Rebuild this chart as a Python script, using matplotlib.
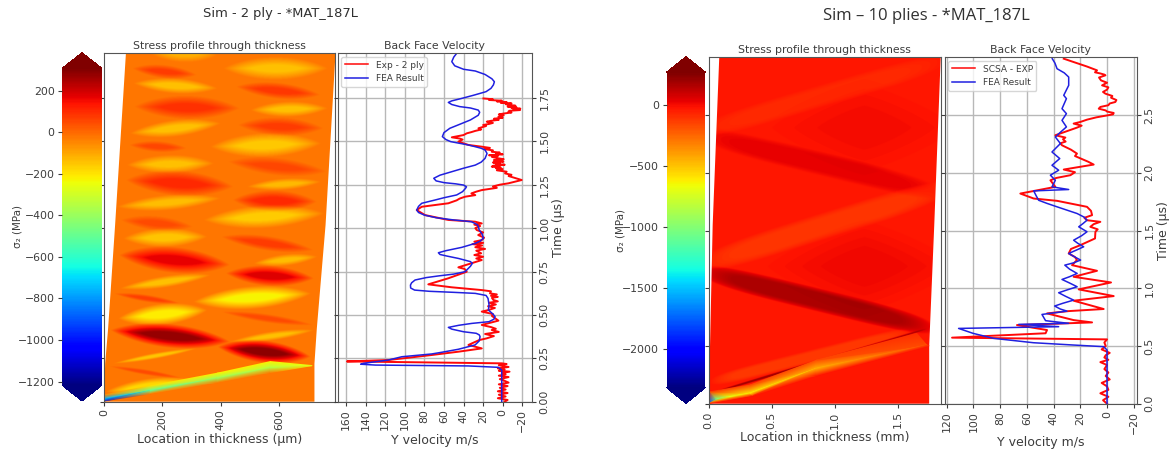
import numpy as np
import matplotlib
matplotlib.use('Agg')
import matplotlib.pyplot as plt
from matplotlib.patches import Polygon
from matplotlib.colors import Normalize

W, H = 1174, 450

# ---- 2 ply: stress bands (um, us, MPa)
bands2_x0 = [95, 101, 409, 449, 101, 501, 89, 455, 84, 364, 78, 421, 72, 489, 44, 438, 55, 341, 66, 398, 49, 512, 415, 55, 32, 306, 49, 398, 21, 432, 387, 32, 15, 4, 158]
bands2_t0 = [1.920, 1.834, 1.920, 1.815, 1.700, 1.680, 1.546, 1.594, 1.479, 1.469, 1.364, 1.383, 1.277, 1.239, 1.123, 1.162, 1.047, 1.047, .941, .951, .845, .797, .740, .653, .624, .576, .480, .519, .413, .346, .317, .221, .206, .058, 2.007]
bands2_x1 = [318, 387, 764, 741, 466, 764, 398, 752, 284, 741, 375, 764, 444, 741, 398, 729, 306, 752, 352, 718, 432, 729, 718, 364, 261, 707, 352, 718, 432, 718, 707, 318, 272, 306, 386]
bands2_t1 = [1.882, 1.805, 1.920, 1.767, 1.690, 1.690, 1.604, 1.575, 1.460, 1.488, 1.373, 1.325, 1.239, 1.267, 1.172, 1.152, 1.008, 1.085, .951, .874, .788, .836, .711, .730, .567, .624, .528, .442, .346, .413, .260, .308, .135, .125, 1.997]
bands2_h = [.04, .044, .066, .048, .07, .044, .048, .055, .033, .07, .053, .053, .075, .033, .044, .062, .044, .066, .055, .044, .077, .033, .06, .033, .022, .066, .062, .026, .07, .026, .066, .017, .017, .044, .046]
bands2_val = [70, -145, -140, 80, 90, -140, -145, 70, 55, -155, -140, 55, 105, -130, -135, 105, 50, -160, -150, 75, 170, -135, 180, -145, 65, -225, -215, 50, 275, -140, 285, -150, 50, -180, -110]
bands2_uexp = [2.0] * 35
bands2_vexp = [1.2] * 35
front2_x = [0, 158, 387, 569, 712, 0, 158, 387, 569, 0, 158, 387, 569]
front2_t = [.039, .091, .164, .231, .208, .016, .064, .135, .196, .004, .046, .110, .167]
front2_val = [-30, -190, -220, -220, -250, -750, -500, -400, -350, -1100, -30, -25, -25]
front2_tri = [(5, 0, 6), (6, 0, 1), (6, 1, 7), (7, 1, 2), (7, 2, 8), (8, 2, 3), (8, 3, 4),
              (5, 9, 6), (6, 9, 10), (6, 10, 7), (7, 10, 11), (7, 11, 8), (8, 11, 12), (8, 12, 4)]
edge2_t = [0, .22, .42, 1.018, 2.007]
edge2_left = [0, 4, 14, 38, 75]
edge2_right = [720, 720, 728, 758, 792]

# ---- 10 plies: stress bands (mm, us, MPa)
bands10_x0 = [-.1, -.1, .35, .35, -.1, -.1, .012, .012]
bands10_t0 = [2.349, 2.339, 1.19, 2.39, 1.196, 1.157, .090, .191]
bands10_x1 = [1.85, 1.85, 2.1, 2.1, 1.9, 1.8, 1.725, 1.59]
bands10_t1 = [2.969, 1.82, 1.19, 2.39, 1.876, .646, .652, .623]
bands10_h = [.10, .11, .45, .45, .12, .105, .012, .06]
bands10_val = [-75, 35, 15, 5, -110, 170, 190, -115]
bands10_uexp = [4, 4, 1.2, 1.2, 4, 4, 6, 6]
bands10_vexp = [2.5, 2.5, 1.2, 1.2, 2.5, 2.5, 2.5, 2.5]
front10_x = [.004, .065, .170, .328, .855, 1.725, .012, .328, .855, 1.646, .007, .354, .855, 1.751]
front10_t = [.009, .041, .061, .090, .306, .508, .104, .162, .378, .609, .003, .070, .243, .502]
front10_val = [-1800, -1000, -680, -620, -450, -170, -90, -150, -170, -90, -30, -30, -30, -30]
front10_tri = [(0, 6, 1), (1, 6, 2), (2, 6, 3), (3, 6, 7), (3, 7, 4), (4, 7, 8), (4, 8, 5), (5, 8, 9),
               (0, 10, 1), (1, 10, 2), (2, 10, 3), (3, 10, 11), (3, 11, 4), (4, 11, 12), (4, 12, 5), (5, 12, 13)]
edge10_t = [0, .50, 1.546, 3.0]
edge10_left = [0, .012, .033, .085]
edge10_right = [1.745, 1.745, 1.785, 1.836]

# ---- velocity curves, ten points a line
fea2_t = [2.007, 1.985, 1.959, 1.935, 1.915, 1.905, 1.885, 1.860, 1.843, 1.825,
          1.805, 1.786, 1.765, 1.747, 1.733, 1.724, 1.712, 1.700, 1.692, 1.680,
          1.667, 1.650, 1.623, 1.600, 1.575, 1.550, 1.527, 1.510, 1.498, 1.479,
          1.460, 1.450, 1.430, 1.402, 1.380, 1.363, 1.345, 1.325, 1.305, 1.287,
          1.272, 1.262, 1.255, 1.248, 1.238, 1.229, 1.210, 1.191, 1.175, 1.162,
          1.143, 1.125, 1.104, 1.090, 1.075, 1.060, 1.047, 1.037, 1.020, 1.008,
          .989, .965, .941, .925, .912, .889, .870, .858, .848, .839,
          .825, .807, .797, .780, .749, .735, .725, .715, .701, .685,
          .672, .655, .643, .636, .630, .624, .612, .595, .560, .528,
          .505, .490, .475, .461, .451, .440, .428, .418, .403, .394,
          .385, .375, .350, .327, .302, .285, .275, .259, .240, .221,
          .216, .211, .206, .198, .182, 0]
fea2_v = [47, 50, 52, 49, 40, 28, 18, 11, 8.5, 9.5,
          12, 17, 30, 42, 52, 55.5, 52, 44, 33, 25,
          23.5, 25, 33, 43, 54, 60, 61.6, 58, 53, 35,
          22, 18, 16, 18, 22, 28, 40, 52, 64, 70.4,
          68, 60, 48, 40, 37, 38, 41, 47, 60, 69,
          82.7, 86, 87.8, 86, 80, 68, 50, 32, 26, 24.8,
          24, 21, 19.7, 23, 28, 41.9, 58, 65.7, 64, 57,
          45, 33, 31, 33, 38.4, 50, 65, 78, 89.5, 93,
          94.2, 94, 90, 75, 50, 28, 17, 15, 14, 14.6,
          10, 7.8, 9, 14, 31.6, 45, 55.5, 52, 40, 27,
          24, 23.1, 24, 28.2, 45.3, 62, 72.5, 103, 116.7, 142.2,
          145, 130, 35, 4.4, 1, 1]
exp2_t = [1.747, 1.742, 1.738, 1.734, 1.730, 1.726, 1.722, 1.718, 1.714, 1.709,
          1.705, 1.700, 1.696, 1.692, 1.688, 1.684, 1.680, 1.676, 1.671, 1.666,
          1.660, 1.655, 1.650, 1.642, 1.636, 1.630, 1.624, 1.618, 1.613, 1.606,
          1.600, 1.594, 1.588, 1.575, 1.568, 1.560, 1.553, 1.546, 1.536, 1.523,
          1.516, 1.510, 1.498, 1.479, 1.469, 1.462, 1.455, 1.448, 1.440, 1.435,
          1.430, 1.425, 1.420, 1.415, 1.410, 1.402, 1.397, 1.392, 1.388, 1.383,
          1.378, 1.374, 1.370, 1.365, 1.360, 1.354, 1.349, 1.345, 1.340, 1.333,
          1.325, 1.315, 1.307, 1.300, 1.290, 1.277, 1.258, 1.250, 1.240, 1.232,
          1.219, 1.210, 1.200, 1.190, 1.181, 1.170, 1.160, 1.143, 1.123, 1.104,
          1.075, 1.047, 1.037, 1.027, 1.020, 1.012, 1.000, .989, .975, .960,
          .945, .931, .922, .915, .908, .900, .890, .880, .870, .855,
          .845, .835, .825, .816, .774, .765, .749, .711, .676, .659,
          .643, .636, .624, .618, .610, .604, .598, .586, .578, .570,
          .560, .550, .540, .528, .519, .505, .494, .467, .442, .430,
          .420, .413, .402, .390, .378, .365, .355, .345, .327, .307,
          .288, .269, .240, .232, .221, .217, .210, .200, .192, .185,
          .178, .173, .165, .158, .150, .142, .130, .120, .110, .100,
          .090, .080, .070, .060, .050, .040, .030, .020, .010, 0]
exp2_v = [19.7, 10, 14, 1, 6, -4, 2, -9, -3, -7.5,
          -13, -5, -14, -9, -18, -11, -17.7, -7, -5.8, -9,
          -1, 4, -1, 4.4, 0, 9, 4, 12, 16.3, 10,
          14, 20, 17, 24.8, 22, 28, 32, 36.7, 40, 52,
          44, 41, 45.3, 35, 21.4, 13, 19, 10, 11.2, 3,
          7, 0, 14, 5, 11, 4.4, -1, 9, 2, -.7,
          10, 3, 7, -2, 9, 11.2, 2, 7, 0, 6,
          -4, -2.4, -9, -6, -12, -19.4, -5.8, 3, 10, 6,
          21.4, 27, 32, 28, 38.4, 44, 47, 55.5, 82.7, 87.8,
          79.3, 55.5, 28.2, 21.4, 29, 23, 28, 26.5, 20, 25,
          19, 21.4, 29, 20, 31, 21, 28, 18, 27, 22,
          29, 20, 27, 21.4, 45.3, 39, 36.7, 55.5, 76, 52,
          21.4, 12, 13, 6, 12, 5, 11, 9.5, 5, 14,
          7, 15, 8, 14.6, 21.4, 10, 11, 4.4, 21.4, 12,
          7, 11.2, 4, 18, 9, 16.3, 24, 28, 35, 21.4,
          45.3, 72.5, 116.7, 159, 1, -4, 4, -6, 5, -2,
          4, -7, 1, -3, 4, -6, 3, -2, -6, 4,
          -5, 3, -3, 5, -5, 4, -3, 5, -5, -2]
fea10_t = [2.988, 2.950, 2.901, 2.865, 2.829, 2.757, 2.671, 2.642, 2.555, 2.512,
           2.454, 2.397, 2.350, 2.310, 2.253, 2.180, 2.123, 2.065, 2.022, 1.979,
           1.935, 1.878, 1.855, 1.843, 1.800, 1.762, 1.735, 1.705, 1.647, 1.615,
           1.589, 1.560, 1.532, 1.510, 1.489, 1.455, 1.416, 1.390, 1.359, 1.330,
           1.301, 1.270, 1.244, 1.220, 1.200, 1.165, 1.128, 1.100, 1.076, 1.045,
           1.013, .985, .961, .930, .897, .870, .846, .820, .802, .773,
           .719, .696, .687, .667, .652, .609, .566, .528, .508, .494,
           .465, 0]
fea10_v = [41, 39, 37.4, 32, 28.7, 28.7, 32.4, 30.4, 33.7, 30.4,
           33.7, 30.4, 35, 38.7, 34.9, 41.2, 35.4, 41.2, 36.2, 42.4,
           38.7, 41.2, 28.7, 54.9, 53, 51.2, 45, 37.4, 22.4, 17,
           15, 18, 21.2, 18, 15, 19, 25, 22, 17.5, 23,
           28.7, 24, 19.8, 25, 31.6, 28, 22.4, 28, 33.7, 28,
           22.4, 30, 36.2, 31, 25, 33, 39.2, 35, 30, 48.7,
           46, 28.7, 66.1, 36.2, 111.1, 100.2, 84.9, 55, 25, 2.5,
           0, 0]
exp10_t = [2.988, 2.959, 2.920, 2.887, 2.870, 2.860, 2.850, 2.844, 2.825, 2.800,
           2.780, 2.757, 2.740, 2.720, 2.700, 2.685, 2.665, 2.650, 2.630, 2.613,
           2.600, 2.585, 2.570, 2.555, 2.540, 2.530, 2.518, 2.506, 2.480, 2.460,
           2.440, 2.426, 2.408, 2.391, 2.325, 2.305, 2.290, 2.270, 2.255, 2.238,
           2.200, 2.166, 2.145, 2.120, 2.095, 2.071, 2.028, 2.005, 1.979, 1.955,
           1.935, 1.878, 1.820, 1.777, 1.757, 1.705, 1.670, 1.633, 1.610, 1.589,
           1.575, 1.555, 1.532, 1.510, 1.489, 1.431, 1.373, 1.340, 1.301, 1.270,
           1.244, 1.200, 1.151, 1.099, 1.050, .990, .932, .892, .820, .802,
           .782, .724, .704, .681, .638, .610, .572, .557, .530, .500,
           .470, .440, .420, .400, .380, .360, .335, .300, .270, .240,
           .210, .180, .150, .120, .090, .060, .030, 0]
exp10_v = [32.4, 25, 15, 7.5, 9, 5, 2, 1.2, 6, 4.5,
           0, 3.7, -1, 0, 3, 1.2, -4, -3, -7, -6.2,
           -2, -1, 5, 6.2, 1, 0, -5, -4.5, 8, 15,
           20, 25, 19, 22.5, 38.7, 31.2, 33, 31, 35, 33.7,
           27, 22.5, 24, 19, 14, 10, 32.4, 24, 27.4, 38,
           42.4, 38.7, 64.9, 54.9, 37.4, 15, 12, 11.2, 17, 15,
           5, 10, 12.5, 7, 8.7, 9, 20, 27, 28.7, 24,
           22.5, 26.2, 7.5, 25, -3, 21.2, -5, 25, 2.5, 28.7,
           44.9, 25, 11.2, 67.4, 44.9, 46, 116, 0, 2, 1,
           4, -2, 1, 2, -1, 5, 0, 2, -1, 1,
           -2, 4, 0, -1, 5, -1, 3, 0]


def rect(x0, y0, x1, y1):
    # pixel box -> figure fraction
    return [x0 / W, 1 - y1 / H, (x1 - x0) / W, (y1 - y0) / H]


def stressField(x, t, bg, x0s, t0s, x1s, t1s, hs, vals, uexps, vexps):
    X, T = np.meshgrid(x, t)
    field = np.full(X.shape, float(bg))
    for x0, t0, x1, t1, h, val, ue, ve in zip(x0s, t0s, x1s, t1s, hs, vals, uexps, vexps):
        u = (X - x0) / (x1 - x0)
        v = (T - (t0 + u * (t1 - t0))) / h
        weight = np.clip(1.3 * (1 - np.abs(2 * u - 1) ** ue - np.abs(v) ** ve), 0, 1)
        field += (val - bg) * weight
    return field


def drawPanel(boxes, labelX, xmax, tmax, vmin, vmax, bg, bands, front, edges, xlabel, xticks, xfmt,
              cticks, vlim, vticks, tticks, tfmt, curves, expLabel):
    heatBox, cbarBox, velBox, frac = boxes
    norm = Normalize(vmin, vmax)

    ax = fig.add_axes(rect(*heatBox))
    x = np.linspace(0, xmax, 900)
    t = np.linspace(0, tmax, 900)
    field = stressField(x, t, bg, *bands)
    im = ax.imshow(field, cmap='jet', norm=norm, origin='lower', aspect='auto',
                   extent=[0, xmax, 0, tmax], interpolation='bilinear')
    tc = ax.tripcolor(front[0], front[1], front[3], front[2], cmap='jet', norm=norm, shading='gouraud')

    et, el, er = edges
    outline = list(zip(el, et)) + list(zip(er, et))[::-1]
    for art in (im, tc):
        art.set_clip_path(Polygon(outline, transform=ax.transData))
    ax.set_xlim(0, xmax)
    ax.set_ylim(0, tmax)
    ax.set_xticks(xticks)
    ax.set_xticklabels([xfmt % v for v in xticks], rotation=90)
    ax.set_yticks(tticks)
    ax.set_yticklabels([])
    ax.set_title('Stress profile through thickness', fontsize=7.8, color=TXT, pad=3)
    ax.set_xlabel(xlabel, fontsize=9, color=TXT, labelpad=2)

    cax = fig.add_axes(rect(*cbarBox))
    sm = plt.cm.ScalarMappable(norm=norm, cmap='jet')
    cb = fig.colorbar(sm, cax=cax, extend='both', extendfrac=frac)
    cb.outline.set_visible(False)
    cb.set_ticks(cticks)
    cax.yaxis.set_ticks_position('left')
    cax.yaxis.set_label_position('left')
    cb.set_label('σ₂ (MPa)', fontsize=7.5, color=TXT)
    cax.yaxis.set_label_coords(labelX, 0.5)

    vel = fig.add_axes(rect(*velBox))
    vel.plot(curves[0], curves[1], color='#ff0808', lw=1.4, label=expLabel)
    vel.plot(curves[2], curves[3], color='#2020e0', lw=1.1, label='FEA Result')
    vel.set_xlim(*vlim)
    vel.set_ylim(0, tmax)
    vel.set_xticks(vticks)
    vel.set_xticklabels([str(v).replace('-', '\u2212') for v in vticks], rotation=90)
    vel.set_yticks(tticks)
    vel.set_yticklabels([tfmt % v for v in tticks], rotation=90, va='center')
    vel.yaxis.tick_right()
    vel.tick_params(axis='y', left=True)
    vel.yaxis.set_label_position('right')
    vel.grid(True, color='#b8b8b8', lw=1.0)
    vel.set_title('Back Face Velocity', fontsize=7.8, color=TXT, pad=3)
    vel.set_xlabel('Y velocity m/s', fontsize=9, color=TXT, labelpad=1)
    vel.set_ylabel('Time (µs)', fontsize=9, color=TXT, labelpad=2)
    leg = vel.legend(loc='upper left', fontsize=6.5, borderaxespad=0.4, handlelength=2.6, labelcolor=TXT)
    leg.get_lines()[0].set_linewidth(1.1)

    for a in (ax, vel, cax):
        a.tick_params(labelsize=7.8, colors=TXT, length=3, width=0.8, pad=2.5)
    for a in (ax, vel):
        for s in a.spines.values():
            s.set_color('#555555')


TXT = '#3c3c3c'
fig = plt.figure(figsize=(W / 100, H / 100), dpi=100)

drawPanel(((104, 53.3, 335.5, 401.7), (62.3, 52.7, 101.7, 401), (337.7, 53.3, 531.7, 401.7), 0.049), -1.02,
          792, 2.007, -1219, 308, -25,
          (bands2_x0, bands2_t0, bands2_x1, bands2_t1, bands2_h, bands2_val, bands2_uexp, bands2_vexp),
          (front2_x, front2_t, front2_val, front2_tri), (edge2_t, edge2_left, edge2_right),
          'Location in thickness (µm)', [0, 200, 400, 600], '%d',
          [-1200, -1000, -800, -600, -400, -200, 0, 200], (168.5, -29.6),
          [160, 140, 120, 100, 80, 60, 40, 20, 0, -20],
          [0, .25, .5, .75, 1, 1.25, 1.5, 1.75], '%.2f',
          (exp2_v, exp2_t, fea2_v, fea2_t), 'Exp - 2 ply')

drawPanel(((708.5, 57.3, 940.7, 403.7), (666.7, 56.7, 705.3, 403.3), (944.7, 57.3, 1136.7, 403.7), 0.049), -1.08,
          1.836, 3.0, -2322, 273, -30,
          (bands10_x0, bands10_t0, bands10_x1, bands10_t1, bands10_h, bands10_val, bands10_uexp, bands10_vexp),
          (front10_x, front10_t, front10_val, front10_tri), (edge10_t, edge10_left, edge10_right),
          'Location in thickness (mm)', [0, .5, 1, 1.5], '%.1f',
          [-2000, -1500, -1000, -500, 0], (121.5, -22.2),
          [120, 100, 80, 60, 40, 20, 0, -20],
          [0, .5, 1, 1.5, 2, 2.5], '%.1f',
          (exp10_v, exp10_t, fea10_v, fea10_t), 'SCSA - EXP')

fig.text(280.5 / W, 1 - 13 / H, 'Sim - 2 ply - *MAT_187L', ha='center', va='center', fontsize=9.4, color='#303030')
fig.text(926 / W, 1 - 16 / H, 'Sim – 10 plies - *MAT_187L', ha='center', va='center', fontsize=12,
         color='#303030', family='Open Sans')

fig.savefig('out.png', dpi=100)
